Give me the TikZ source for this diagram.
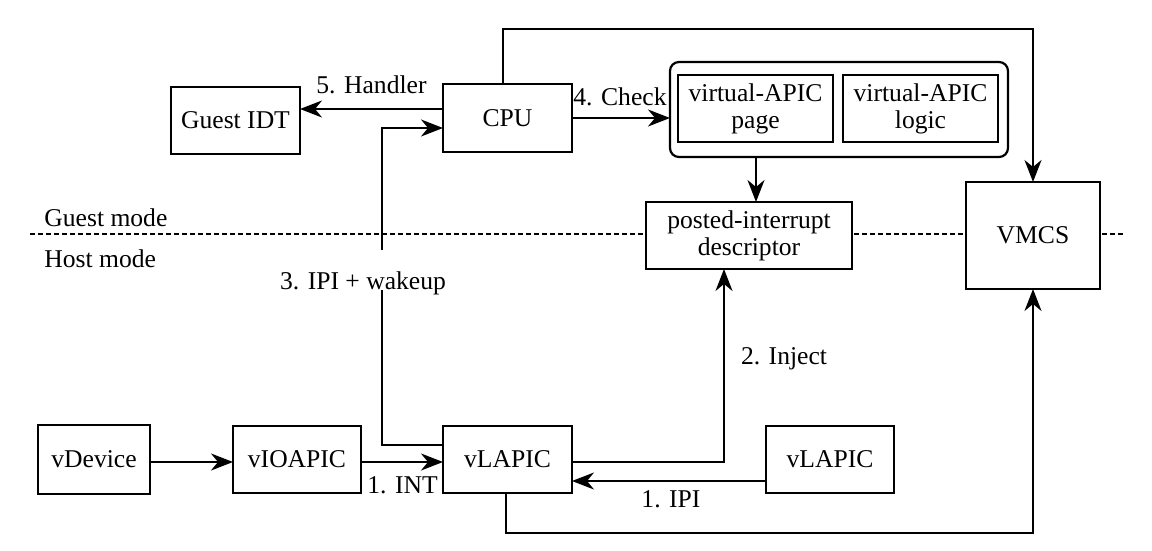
\documentclass[tikz,border=0pt]{standalone}
\usepackage{fontspec}
\setmainfont{Liberation Serif}
\newfontfamily\timesfam{Liberation Serif}
\usetikzlibrary{arrows.meta,calc}
\begin{document}
\begin{tikzpicture}[x=0.5pt,y=-0.5pt,
  txt/.style={font=\timesfam\fontsize{12.8}{13.6}\selectfont},
  box/.style={txt,draw,line width=1.1pt,fill=white,inner sep=0pt,outer sep=0pt,align=center},
  lbl/.style={txt,inner sep=0pt,anchor=base},
  conn/.style={line width=0.95pt},
  arr/.style={conn,-{Stealth[length=11pt,width=8.5pt,inset=3.5pt]}},
  modeline/.style={line width=1pt,dash pattern=on 2.6pt off 1.4pt}]
\useasboundingbox (0,0) rectangle (1152,551);

% mode separator
\coordinate (ml) at (30,234);
\coordinate (mr) at (1123,234);
\draw[modeline] (ml) -- (mr);
\node[lbl,anchor=base west] (gm) at (44,227) {Guest mode};
\node[lbl,anchor=base west] (hm) at (44,267) {Host mode};

% boxes
\node[box,minimum width=64.5pt,minimum height=33.5pt] (gidt) at (235.5,120.5) {Guest IDT};
\node[box,minimum width=64.5pt,minimum height=34pt] (cpu) at (507.5,118) {CPU};
\node[draw,fill=white,line width=1.1pt,rounded corners=4.5pt,minimum width=169pt,minimum height=47.5pt,inner sep=0pt,outer sep=0pt] (cont) at (839,109.5) {};
\node[box,minimum width=77.5pt,minimum height=33.5pt] (vpage) at (755.5,108.5) {virtual-APIC\\page};
\node[box,minimum width=77.5pt,minimum height=33.5pt] (vlogic) at (920.5,108.5) {virtual-APIC\\logic};
\node[box,minimum width=103pt,minimum height=33.5pt] (pid) at (749,235.5) {posted-interrupt\\descriptor};
\node[box,minimum width=67pt,minimum height=53.5pt] (vmcs) at (1033,235.5) {VMCS};
\node[box,minimum width=56pt,minimum height=34.5pt] (vdev) at (94,459.5) {vDevice};
\node[box,minimum width=64pt,minimum height=33.5pt] (vio) at (297,459.5) {vIOAPIC};
\node[box,minimum width=64.5pt,minimum height=33.5pt] (vla) at (507.5,459.5) {vLAPIC};
\node[box,minimum width=64pt,minimum height=33.5pt] (vlb) at (830,459.5) {vLAPIC};

% connectors
\coordinate (h1) at ($(cpu.west)+(0,-9)$);
\draw[arr] (h1) -- (h1 -| gidt.east);

\coordinate (w1) at ($(vla.west)+(0,-14.5)$);
\coordinate (w2) at ($(cpu.west)+(0,10)$);
\draw[arr] (w1) -- ++(-61,0) |- (w2);

\draw[arr] (cpu.east) -- (cpu.east -| cont.west);

\coordinate (t1) at ($(cpu.north)+(-4.5,0)$);
\draw[arr] (t1) -- ++(0,-55) -| (vmcs.north);

\coordinate (c1) at ($(cont.south)+(-83,0)$);
\draw[arr] (c1) -- (c1 |- pid.north);

\coordinate (i1) at ($(vla.east)+(0,2.5)$);
\draw[arr] (i1) -| ($(pid.south)+(-25,0)$);

\draw[arr] ($(vdev.east)+(0,2.5)$) -- ($(vio.west)+(0,2.5)$);
\draw[arr] ($(vio.east)+(0,2.5)$) -- ($(vla.west)+(0,2.5)$);
\draw[arr] ($(vlb.west)+(0,21.5)$) -- ($(vla.east)+(0,21.5)$);

\coordinate (b1) at ($(vla.south)+(-1.5,0)$);
\draw[arr] (b1) -- ++(0,40) -| (vmcs.south);

% labels
\node[lbl] (l5) at (371.5,94) {5. Handler};
\node[lbl] (l4) at (620,106) {4. Check};
\node[lbl,fill=white,text height=19.5pt,text depth=0.5pt,inner xsep=1pt] (l3) at (363,289) {3. IPI + wakeup};
\node[lbl] (l2) at (784,364) {2. Inject};
\node[lbl] (l1a) at (402.5,493) {1. INT};
\node[lbl] (l1b) at (671,507) {1. IPI};
\end{tikzpicture}
\end{document}
